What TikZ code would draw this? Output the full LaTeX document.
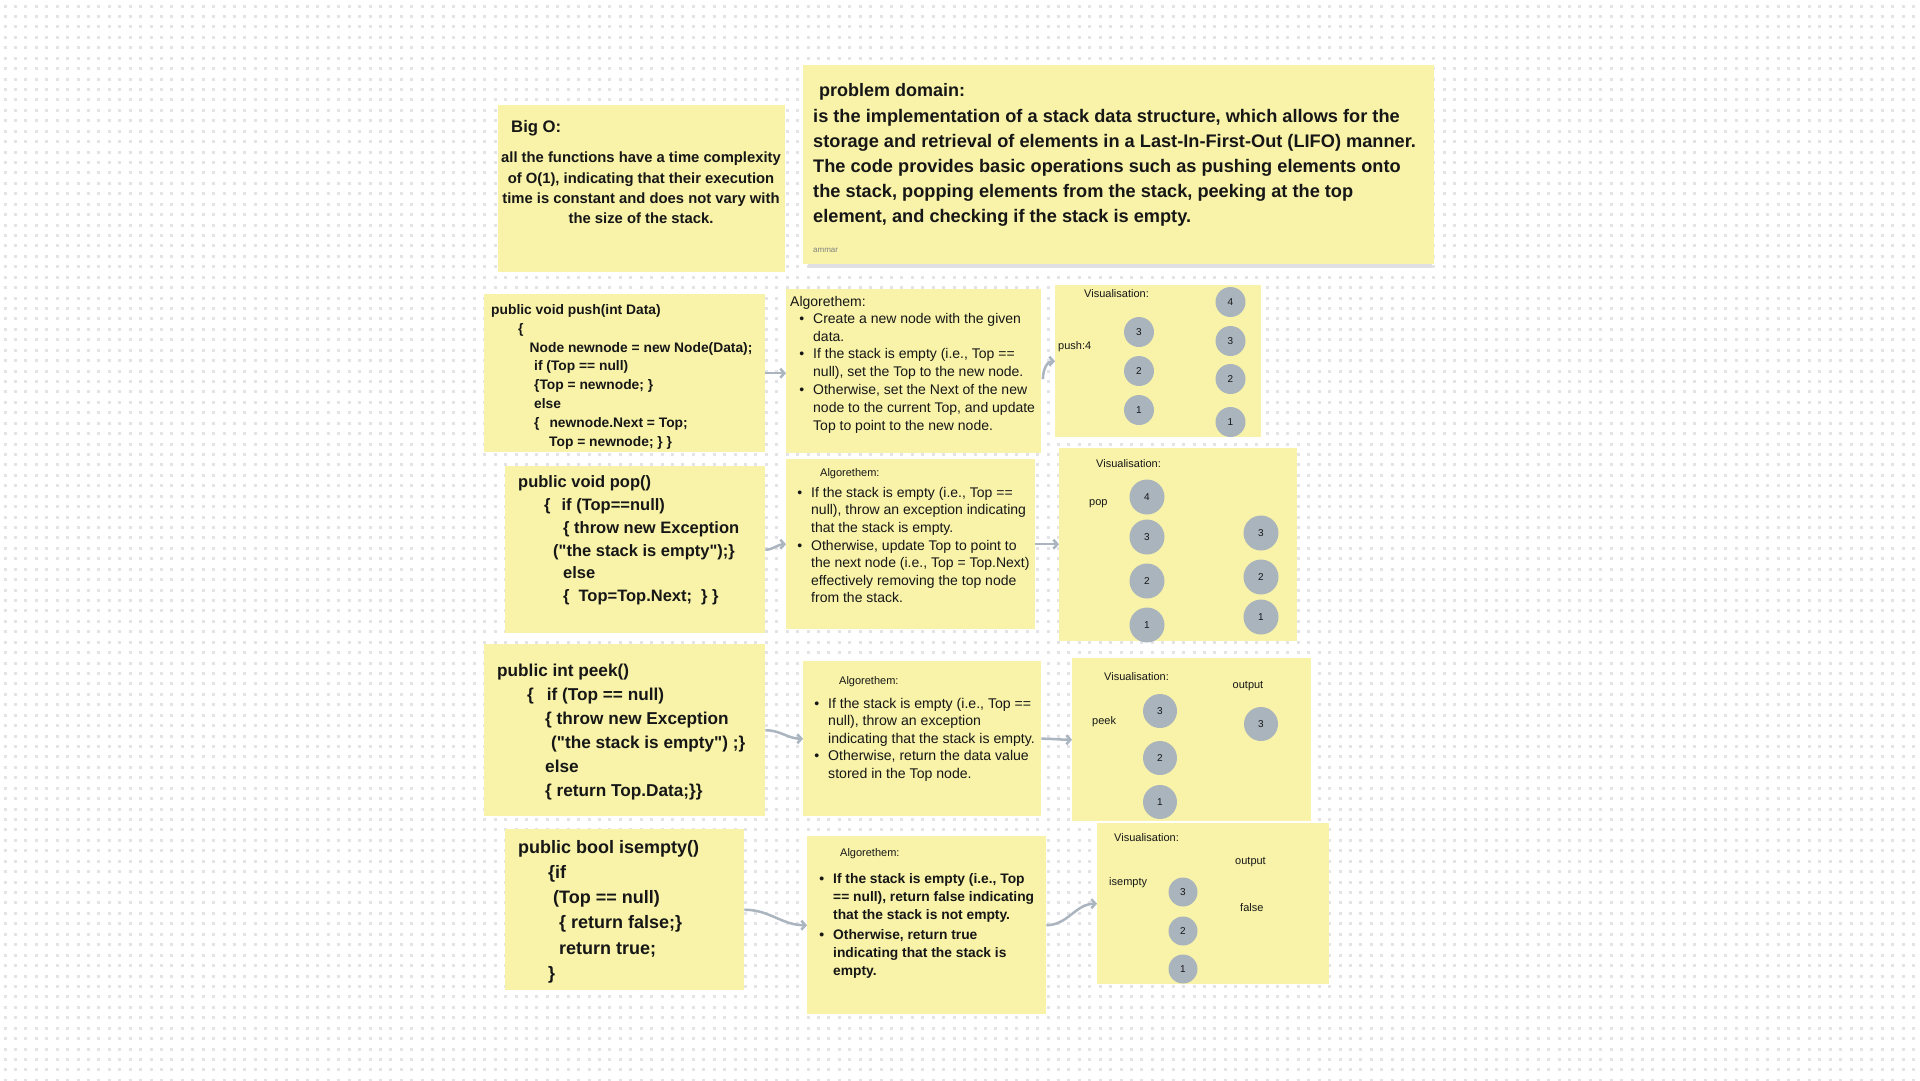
\documentclass[tikz,border=0pt]{standalone}
\usepackage{fontspec}
\setmainfont{Liberation Sans}
\usetikzlibrary{arrows.meta}
\definecolor{notefill}{HTML}{F8F3A9}
\definecolor{dotgray}{HTML}{E4E4E8}
\definecolor{ballgray}{HTML}{AAB4BD}
\definecolor{flowgray}{HTML}{AAB5C0}
\definecolor{inkblack}{HTML}{161616}
\definecolor{shadegray}{HTML}{E0E0E3}
\newcommand{\bul}{\llap{\textbullet\hspace{9pt}}}
\newcommand{\qq}{\textquotedbl}

\begin{document}
\begin{tikzpicture}[x=1pt,y=-1pt,
  note/.style={fill=notefill,draw=none,inner sep=0pt,anchor=north west},
  txt/.style={inner sep=0pt,anchor=base west,align=left,text=inkblack},
  block/.style={txt,anchor=north west,yshift=#1,execute at begin node={\rule{0pt}{#1}}},
  small/.style={txt,font=\fontsize{11}{13}\selectfont},
  ball/.style={circle,fill=ballgray,inner sep=0pt,text=inkblack,font=\fontsize{10}{12}\selectfont},
  flow/.style={draw=flowgray,line width=2.5pt,-{Straight Barb[length=4pt,width=9pt]}}]
\useasboundingbox (0,0) rectangle (1920,1080);
\fill[white] (0,0) rectangle (1920,1080);
% dotted board
\foreach \j in {0,...,103}
  \draw[dotgray,line width=3pt,dash pattern=on 3pt off 7.43pt] (3.5,{6+10.43*\j}) -- (1920,{6+10.43*\j});

% top notes
\node[note,minimum width=287,minimum height=167] (bigo) at (498,105) {};
\fill[shadegray] (808,262) rectangle (1432,268);
\node[note,minimum width=631,minimum height=199] (domain) at (803,65) {};
\node[txt,font=\bfseries\fontsize{16.7}{20}\selectfont] (bigotitle) at (511,132) {Big O:};
\node[block=14.8pt,anchor=north,align=center,font=\bfseries\fontsize{14.8}{20.4}\selectfont] (bigotext) at (641,166.5)
  {all the functions have a time complexity\\of O(1), indicating that their execution\\time is constant and does not vary with\\the size of the stack.};
\node[txt,font=\bfseries\fontsize{18}{25}\selectfont] (domaintitle) at (819,96) {problem domain:};
\node[block=18.2pt,font=\bfseries\fontsize{18.2}{25.2}\selectfont] (domaintext) at (813,127)
  {is the implementation of a stack data structure, which allows for the\\storage and retrieval of elements in a Last-In-First-Out (LIFO) manner.\\The code provides basic operations such as pushing elements onto\\the stack, popping elements from the stack, peeking at the top\\element, and checking if the stack is empty.};
\node[txt,text=gray,font=\fontsize{8}{10}\selectfont] (author) at (813,252) {ammar};

% push
\node[note,minimum width=281,minimum height=158] (pushcode) at (484,294) {};
\node[note,minimum width=255,minimum height=164] (pushalgo) at (786,289) {};
\node[note,minimum width=206,minimum height=152] (pushvis) at (1055,285) {};
\node[block=13.8pt,font=\bfseries\fontsize{13.8}{18.8}\selectfont] (pushtext) at (491,318)
  {public void push(int Data)\\
   \hspace*{27pt}\{\\
   \hspace*{38.5pt}Node newnode = new Node(Data);\\
   \hspace*{43pt}if (Top == null)\\
   \hspace*{43pt}\{Top = newnode; \}\\
   \hspace*{43pt}else\\
   \hspace*{43pt}\{\hspace{10pt}newnode.Next = Top;\\
   \hspace*{58pt}Top = newnode; \} \}};
\node[txt,font=\fontsize{14}{17.5}\selectfont] (pushhead) at (790,306) {Algorethem:};
\node[block=14pt,font=\fontsize{14}{17.8}\selectfont] (pushsteps) at (813,327)
  {\bul Create a new node with the given\\data.\\
   \bul If the stack is empty (i.e., Top ==\\null), set the Top to the new node.\\
   \bul Otherwise, set the Next of the new\\node to the current Top, and update\\Top to point to the new node.};
\node[small] (pushvistitle) at (1084,297) {Visualisation:};
\node[small] (pushlabel) at (1058,349) {push:4};
\node[ball,minimum size=30] (pua3) at (1139,332) {3};
\node[ball,minimum size=30] (pua2) at (1139,371) {2};
\node[ball,minimum size=30] (pua1) at (1139,410) {1};
\node[ball,minimum size=30] (pub4) at (1230.5,302) {4};
\node[ball,minimum size=30] (pub3) at (1230.5,341) {3};
\node[ball,minimum size=30] (pub2) at (1230.5,379) {2};
\node[ball,minimum size=30] (pub1) at (1230.5,422) {1};

% pop
\node[note,minimum width=260,minimum height=167] (popcode) at (505,466) {};
\node[note,minimum width=249,minimum height=170] (popalgo) at (786,459) {};
\node[note,minimum width=238,minimum height=193] (popvis) at (1059,448) {};
\node[block=16.5pt,font=\bfseries\fontsize{16.5}{22.8}\selectfont] (poptext) at (518,492)
  {public void pop()\\
   \hspace*{26pt}\{\hspace{11pt}if (Top==null)\\
   \hspace*{45pt}\{ throw new Exception\\
   \hspace*{35pt}(\qq the stack is empty\qq);\}\\
   \hspace*{45pt}else\\
   \hspace*{45pt}\{\hspace{9pt}Top=Top.Next;\hspace{9pt}\} \}};
\node[small] (pophead) at (820,476) {Algorethem:};
\node[block=14pt,font=\fontsize{14}{17.6}\selectfont] (popsteps) at (811,501)
  {\bul If the stack is empty (i.e., Top ==\\null), throw an exception indicating\\that the stack is empty.\\
   \bul Otherwise, update Top to point to\\the next node (i.e., Top = Top.Next)\\effectively removing the top node\\from the stack.};
\node[small] (popvistitle) at (1096,467) {Visualisation:};
\node[small] (poplabel) at (1089,505) {pop};
\node[ball,minimum size=35] (poa4) at (1147,497) {4};
\node[ball,minimum size=35] (poa3) at (1147,537) {3};
\node[ball,minimum size=35] (poa2) at (1147,581) {2};
\node[ball,minimum size=35] (poa1) at (1147,625) {1};
\node[ball,minimum size=35] (pob3) at (1261,533) {3};
\node[ball,minimum size=35] (pob2) at (1261,577) {2};
\node[ball,minimum size=35] (pob1) at (1261,617) {1};

% peek
\node[note,minimum width=281,minimum height=172] (peekcode) at (484,644) {};
\node[note,minimum width=238,minimum height=155] (peekalgo) at (803,661) {};
\node[note,minimum width=239,minimum height=163] (peekvis) at (1072,658) {};
\node[block=17.2pt,font=\bfseries\fontsize{17.2}{24}\selectfont] (peektext) at (497,681)
  {public int peek()\\
   \hspace*{30pt}\{\hspace{13pt}if (Top == null)\\
   \hspace*{48pt}\{ throw new Exception\\
   \hspace*{54pt}(\qq the stack is empty\qq) ;\}\\
   \hspace*{48pt}else\\
   \hspace*{48pt}\{ return Top.Data;\}\}};
\node[small] (peekhead) at (839,684.5) {Algorethem:};
\node[block=14.1pt,font=\fontsize{14.1}{17.5}\selectfont] (peeksteps) at (828,712)
  {\bul If the stack is empty (i.e., Top ==\\null), throw an exception\\indicating that the stack is empty.\\
   \bul Otherwise, return the data value\\stored in the Top node.};
\node[small] (peekvistitle) at (1104,680) {Visualisation:};
\node[small] (peekout) at (1232.5,688) {output};
\node[small] (peeklabel) at (1092,724) {peek};
\node[ball,minimum size=34] (pea3) at (1160,711) {3};
\node[ball,minimum size=34] (pea2) at (1160,758) {2};
\node[ball,minimum size=34] (pea1) at (1160,802) {1};
\node[ball,minimum size=34] (peb3) at (1261,724) {3};

% isempty
\node[note,minimum width=239,minimum height=161] (emptycode) at (505,829) {};
\node[note,minimum width=239,minimum height=178] (emptyalgo) at (807,836) {};
\node[note,minimum width=232,minimum height=161] (emptyvis) at (1097,823) {};
\node[block=18pt,font=\bfseries\fontsize{18}{25.2}\selectfont] (emptytext) at (518,858)
  {public bool isempty()\\
   \hspace*{30pt}\{if\\
   \hspace*{35pt}(Top == null)\\
   \hspace*{41pt}\{ return false;\}\\
   \hspace*{41pt}return true;\\
   \hspace*{30pt}\}};
\node[small] (emptyhead) at (840,856) {Algorethem:};
\node[block=13.8pt,font=\bfseries\fontsize{13.8}{18.2}\selectfont] (emptysteps) at (833,887)
  {\bul If the stack is empty (i.e., Top\\== null), return false indicating\\that the stack is not empty.\\[1.5pt]
   \bul Otherwise, return true\\indicating that the stack is\\empty.};
\node[small] (emptyvistitle) at (1114,841) {Visualisation:};
\node[small] (emptyout) at (1235,864) {output};
\node[small] (emptylabel) at (1109,885) {isempty};
\node[small] (emptyresult) at (1240,911) {false};
\node[ball,minimum size=29] (ema3) at (1183,892) {3};
\node[ball,minimum size=29] (ema2) at (1183,931) {2};
\node[ball,minimum size=29] (ema1) at (1183,969) {1};

% connectors
\draw[flow] (pushcode.east) -- (pushcode.east -| pushalgo.west);
\draw[flow] ([xshift=1.5pt,yshift=-8pt]pushalgo.east) to[out=90,in=180] (pushvis.west);
\draw[flow] (popcode.east) to[out=0,in=180] (popalgo.west);
\draw[flow] (popalgo.east) -- (popalgo.east -| popvis.west);
\draw[flow] (peekcode.east) to[out=0,in=180] (peekalgo.west);
\draw[flow] (peekalgo.east) to[out=0,in=180] (peekvis.west);
\draw[flow] (emptycode.east) to[out=0,in=180] (emptyalgo.west);
\draw[flow] (emptyalgo.east) to[out=0,in=180] (emptyvis.west);
\end{tikzpicture}
\end{document}
